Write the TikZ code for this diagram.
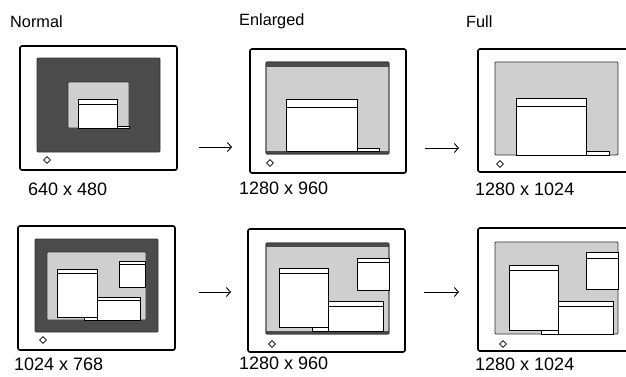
\documentclass[tikz,border=0pt]{standalone}
\usepackage{fontspec}
\setmainfont{Liberation Sans}
\usepackage{tikz}
\usetikzlibrary{arrows.meta}

\definecolor{scrdark}{HTML}{4B4B4B}
\definecolor{scrlight}{HTML}{CFCFCF}

\begin{document}
\begin{tikzpicture}[x=1pt,y=-1pt,
   frame/.style={draw=black,line width=1.6pt,rounded corners=2pt,fill=white},
   screen/.style={draw=black!80,line width=0.8pt,rounded corners=1pt},
   win/.style={draw=black,line width=0.9pt,fill=white},
   knob/.style={draw=black,line width=0.7pt},
   flow/.style={-{Straight Barb[length=4pt,width=9pt,line width=0.9pt]},line width=0.9pt},
   title/.style={anchor=base west,inner sep=0pt,font=\fontsize{16.3}{18}\selectfont},
   res/.style={anchor=base west,inner sep=0pt,font=\fontsize{18}{20}\selectfont}]
   \useasboundingbox (0,0) rectangle (626,376);
   \clip (0,0) rectangle (626,376);
   % window with title bar: (x1,y1)(x2,y2){title line}
   \def\win(#1,#2)(#3,#4)#5{\filldraw[win] (#1,#2) rectangle (#3,#4);
      \draw[line width=0.7pt] (#1,#5) -- (#3,#5);}
   % small bar below a window
   \def\bar(#1,#2)(#3,#4){\filldraw[win,line width=0.7pt] (#1,#2) rectangle (#3,#4);}
   % titles
   \node[title] (tnormal) at (10,27) {Normal};
   \node[title] (tenlarged) at (239,25.5) {Enlarged};
   \node[title] (tfull) at (466,27) {Full};
   % monitor frames
   \foreach \a/\b/\c/\d in {20/46/177/170,250/49/406/173,478/49/632/172,
                            18/226/175/350,248/229/405/352,478/228/632/351}
   \draw[frame] (\a,\b) rectangle (\c,\d);
   % power buttons
   \foreach \p in {(47,160),(270,163),(500,164),(43,340),(272,344),(503,344)}
   \draw[knob] \p +(-3.3,0) -- +(0,3.3) -- +(3.3,0) -- +(0,-3.3) -- cycle;
   % row 1: normal 640 x 480
   \filldraw[screen,fill=scrdark] (37,58) rectangle (160,152);
   \filldraw[screen,fill=scrlight,line width=0.6pt] (68,82) rectangle (129,128);
   \win(78,99)(117,128){104}
   \bar(117,126)(129,128)
   % row 1: enlarged 1280 x 960
   \filldraw[screen,fill=scrlight] (266,62) rectangle (389,154);
   \fill[scrdark] (266,62) rectangle (389,67);
   \fill[scrdark] (266,151) rectangle (389,154);
   \draw[screen] (266,62) rectangle (389,154);
   \win(286,99)(357,151){107}
   \bar(357,148)(379,151)
   % row 1: full 1280 x 1024
   \filldraw[screen,fill=scrlight] (495,62) rectangle (618,155);
   \win(516,98)(586,155){106}
   \bar(586,151)(609,155)
   % row 2: normal 1024 x 768
   \filldraw[screen,fill=scrdark] (35,239) rectangle (158,332);
   \filldraw[screen,fill=scrlight,line width=0.6pt] (47,252) rectangle (146,320);
   \win(119,261)(145,287){264}
   \win(97,297)(140,320){300}
   \bar(84,317)(97,320)
   \win(57,269)(97,317){273}
   % row 2: enlarged 1280 x 960
   \filldraw[screen,fill=scrlight] (266,243) rectangle (389,334);
   \fill[scrdark] (266,243) rectangle (389,247);
   \fill[scrdark] (266,331) rectangle (389,334);
   \draw[screen] (266,243) rectangle (389,334);
   \win(357,258)(389,290){262}
   \win(328,301)(383,331){306}
   \bar(312,327)(328,331)
   \win(279,268)(328,327){273}
   % row 2: full 1280 x 1024
   \filldraw[screen,fill=scrlight] (495,242) rectangle (618,334);
   \win(586,252)(618,289){258}
   \win(558,301)(613,334){306}
   \bar(541,330)(558,334)
   \win(509,265)(558,330){270}
   % resolutions
   \node[res] (r640) at (28,195) {640 x 480};
   \node[res] (r960a) at (239,194) {1280 x 960};
   \node[res] (r1024a) at (475,195) {1280 x 1024};
   \node[res] (r768) at (14,370) {1024 x 768};
   \node[res] (r960b) at (239,369) {1280 x 960};
   \node[res] (r1024b) at (475,370) {1280 x 1024};
   % arrows
   \coordinate (s1) at (199,147); \coordinate (e1) at (232,147);
   \coordinate (s2) at (425,148); \coordinate (e2) at (459,148);
   \coordinate (s3) at (199,292); \coordinate (e3) at (231,292);
   \coordinate (s4) at (424,292); \coordinate (e4) at (459,292);
   \foreach \i in {1,...,4}
   \draw[flow] (s\i) -- (e\i);
\end{tikzpicture}
\end{document}
